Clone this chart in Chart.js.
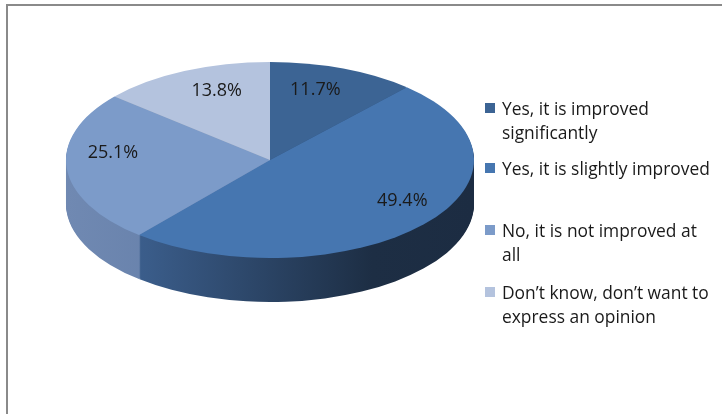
<!DOCTYPE html>
<html>
<head>
<meta charset="utf-8">
<script src="https://cdn.jsdelivr.net/npm/chart.js@4"></script>
<style>
  body { margin: 0; background: #fff; }
  #wrap { position: relative; width: 722px; height: 414px; overflow: hidden; }
  #frame { position: absolute; left: 6px; top: 4px; width: 800px; height: 500px;
           border-top: 2px solid #8a8a8a; border-left: 2px solid #8a8a8a; }
  canvas { position: absolute; left: 0; top: 0; }
  .item { position: absolute; left: 485px; font: 17.4px "Open Sans", sans-serif;
          color: #1a1a1a; line-height: 24px; }
  .item span.box { position: absolute; left: 0; top: 7px; width: 10px; height: 10px; }
  .item div { margin-left: 17px; white-space: nowrap; }
</style>
</head>
<body>
<div id="wrap">
  <div id="frame"></div>
  <canvas id="pie" width="722" height="414"></canvas>
  <div id="legend"></div>
</div>
<script>
const labels = [
  [' Yes, it is improved', 'significantly'],
  ['Yes, it is slightly improved'],
  ['No, it is not improved at', 'all'],
  ['Don\u2019t know, don\u2019t want to', 'express an opinion']
];
const shares = [11.7, 49.4, 25.1, 13.8];
const topColors = ['#3c6494', '#4676b0', '#7c9bc9', '#b4c3de'];

// pie tilt: top face center, squash factor and wall depth in screen px
const TOP_Y = 160;
const SQUASH = 98 / 204;
const DEPTH = 44;
// labels sit a bit higher and shrink toward the back (fake perspective)
const LABEL_Y = 146;
const LABEL_R = 0.76;
const PERSP = 0.2;
const legendTops = [96, 156, 218, 280];

function wallFills(ctx, cx, r) {
  const g = (stops) => {
    const lg = ctx.createLinearGradient(cx - r, 0, cx + r, 0);
    stops.forEach(([p, c]) => lg.addColorStop(p, c));
    return lg;
  };
  return [
    '#2c4a70',
    g([[0, '#40669a'], [0.2, '#3a5c89'], [0.75, '#1d2e44'], [1, '#1c2c42']]),
    g([[0, '#7089b2'], [0.3, '#6680aa'], [1, '#5a729a']]),
    '#8d9bb4'
  ];
}

const tilt = {
  id: 'tilt',
  beforeDatasetsDraw(chart) {
    const meta = chart.getDatasetMeta(0);
    const {x, y, outerRadius} = meta.data[0];
    const ctx = chart.ctx;
    const fills = wallFills(ctx, x, outerRadius);
    ctx.save();
    ctx.translate(x, TOP_Y);
    ctx.scale(1, SQUASH);
    ctx.translate(-x, -y);
    // side wall: stack shifted copies of each slice from the bottom up
    for (let d = DEPTH; d >= 1; d--) {
      meta.data.forEach((arc, i) => {
        const wall = Object.create(arc);
        wall.options = Object.assign({}, arc.options, {backgroundColor: fills[i], borderWidth: 0});
        ctx.save();
        ctx.translate(0, d / SQUASH);
        arc.draw.call(wall, ctx);
        ctx.restore();
      });
    }
  },
  afterDatasetsDraw(chart) {
    const ctx = chart.ctx;
    ctx.restore();
    const meta = chart.getDatasetMeta(0);
    ctx.save();
    ctx.font = '18px "Open Sans", sans-serif';
    ctx.fillStyle = '#1a1a1a';
    ctx.textAlign = 'center';
    ctx.textBaseline = 'middle';
    meta.data.forEach((arc, i) => {
      const mid = (arc.startAngle + arc.endAngle) / 2;
      const r = arc.outerRadius * LABEL_R * (1 + PERSP * Math.sin(mid));
      const px = arc.x + Math.cos(mid) * r;
      const py = LABEL_Y + Math.sin(mid) * r * SQUASH;
      ctx.fillText(chart.data.datasets[0].data[i].toFixed(1) + '%', px, py);
    });
    ctx.restore();
  }
};

new Chart(document.getElementById('pie'), {
  type: 'pie',
  data: {
    labels: labels,
    datasets: [{
      data: shares,
      backgroundColor: topColors,
      borderWidth: 0
    }]
  },
  options: {
    responsive: false,
    animation: false,
    layout: { padding: { left: 66, right: 248, top: 3, bottom: 3 } },
    plugins: { legend: { display: false }, tooltip: { enabled: false } }
  },
  plugins: [tilt]
});

document.getElementById('legend').innerHTML = labels.map((lines, i) => `
  <div class="item" style="top:${legendTops[i]}px">
    <span class="box" style="background:${topColors[i]}"></span>
    <div>${lines.join('<br>')}</div>
  </div>`).join('');
</script>
</body>
</html>
